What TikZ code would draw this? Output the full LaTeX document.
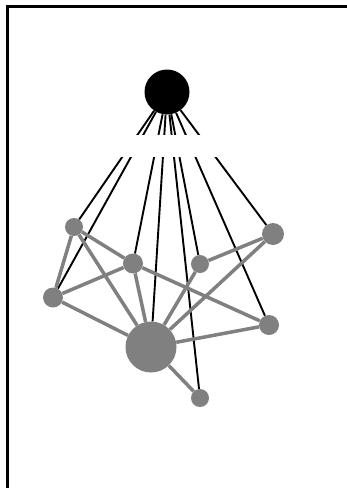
\documentclass[tikz,border=0pt]{standalone}
\definecolor{ggray}{RGB}{128,128,128}
\begin{document}
\begin{tikzpicture}[x=1pt,y=-1pt,
  gnode/.style={circle,fill=ggray,inner sep=0pt,minimum size=#1},
  gedge/.style={draw=ggray,line width=3.5pt},
  bedge/.style={draw=black,line width=1.9pt}]
\useasboundingbox (0,0) rectangle (346,488);
\fill[white] (0,0) rectangle (346,488);
% frame
\draw[line width=2.8pt] (7.8,490) -- (7.8,6.2) -- (348,6.2);
% nodes
\node[circle,fill=black,inner sep=0pt,minimum size=45pt] (hub) at (167,92) {};
\node[gnode=18pt] (a) at (74,227) {};
\node[gnode=20pt] (b) at (133,263.5) {};
\node[gnode=18pt] (c) at (200,264) {};
\node[gnode=22pt] (d) at (273,234) {};
\node[gnode=20pt] (e) at (53,297.5) {};
\node[gnode=20pt] (f) at (269,325) {};
\node[gnode=51pt] (g) at (151,347) {};
\node[gnode=18pt] (h) at (200,398) {};
% black connectors
\foreach \t in {a,e,b,g,h,c,f,d} \draw[bedge] (hub) -- (\t);
% white gap across the fan
\fill[white] (105,135) rectangle (235,157);
% gray connectors
\foreach \u/\v in {a/e,a/b,a/g,e/b,e/g,b/g,b/f,c/d,c/g,d/g,f/g,g/h}
  \draw[gedge] (\u) -- (\v);
\end{tikzpicture}
\end{document}
